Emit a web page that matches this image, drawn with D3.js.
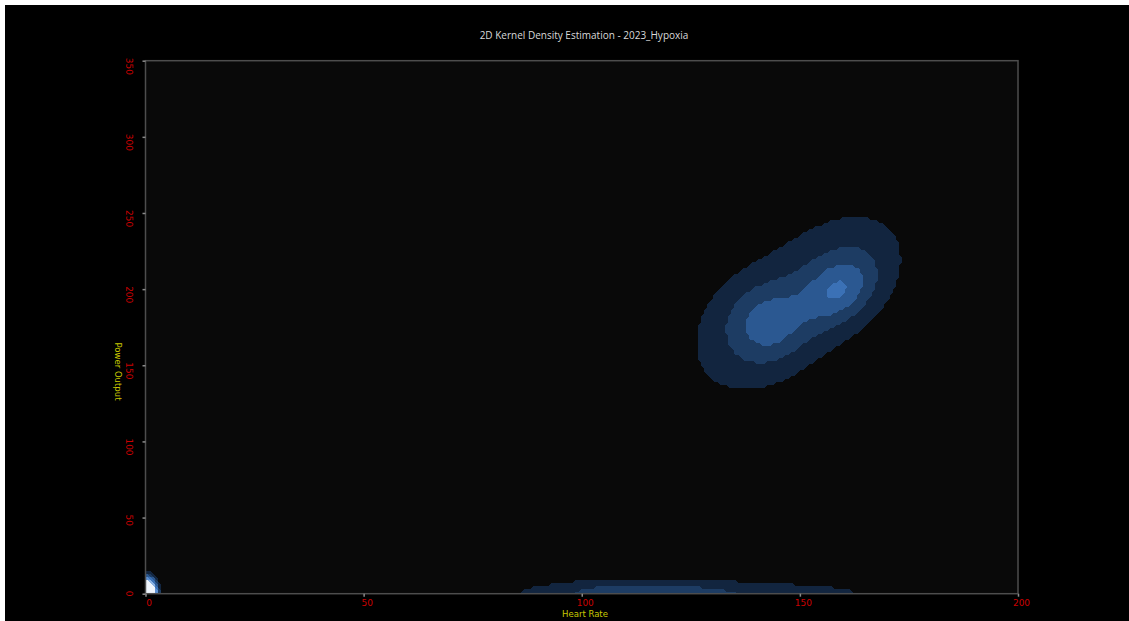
<!DOCTYPE html>
<html>
<head>
<meta charset="utf-8">
<script src="https://cdn.jsdelivr.net/npm/d3@7"></script>
<style>
  html, body { margin: 0; padding: 0; background: #000; }
  svg { display: block; }
</style>
</head>
<body>
<svg id="chart" width="1129" height="621"></svg>
<script>
// ---- axis ticks ----
const xTicks = [0, 50, 100, 150, 200];
const yTicks = [0, 50, 100, 150, 200, 250, 300, 350];

// ---- kernel density components (heart rate bpm, power W) ----
// stationary samples at the origin, zero-power coasting ridge, riding cluster
const kernelHR     = [0,
  80, 86, 92, 98, 104, 110, 116, 122, 128, 134, 140, 146, 152, 158, 164, 170,
  148.9, 139.7, 160.3, 143.2, 159.2, 150.7];
const kernelPower  = [0,
  0, 0, 0, 0, 0, 0, 0, 0, 0, 0, 0, 0, 0, 0, 0, 0,
  191.6, 173.1, 205.0, 177.7, 199.0, 188.9];
const kernelWeight = [40,
  0.25, 0.40, 0.55, 0.72, 1.10, 1.15, 1.15, 1.08, 0.95, 0.80, 0.72, 0.65, 0.50, 0.50, 0.45, 0.15,
  1.7, 0.9, 1.05, 1.2, 1.62, 0.35];
const kernelSdHR   = [1.3,
  6, 6, 6, 6, 6, 6, 6, 6, 6, 6, 6, 6, 6, 6, 6, 6,
  19.3, 7.34, 7.3, 5.5, 4.8, 5.04];
const kernelSdPower = [5.6,
  7, 7, 7, 7, 7, 7, 7, 7, 7, 7, 7, 7, 7, 7, 7, 7,
  47.5, 21.0, 21.5, 15.8, 13.5, 14.45];
const kernelCorr   = [0,
  0, 0, 0, 0, 0, 0, 0, 0, 0, 0, 0, 0, 0, 0, 0, 0,
  0.614, 0, 0.2, 0, 0.3, 0];

// ---- filled contour levels ----
const densityLevels = [1, 2, 3, 4, 6, 8, 10, 12];
const levelColors = ["#12253f", "#1d3c63", "#2b5891", "#3b71b6",
                     "#5d90d2", "#8ab2e3", "#bcd4f0", "#eef4fc"];

const W = 1129, H = 621;
const svg = d3.select("#chart");

// figure background
svg.append("rect").attr("width", W).attr("height", H).attr("fill", "#000");
svg.append("rect").attr("width", W).attr("height", 5).attr("fill", "#fff");
svg.append("rect").attr("width", 5).attr("height", H).attr("fill", "#fff");

const x = d3.scaleLinear().domain([0, 200]).range([145.5, 1018]);
const y = d3.scaleLinear().domain([0, 350]).range([593.7, 60.7]);

const [px0, px1] = x.range();
const [pyBot, pyTop] = y.range();

// plot area
svg.append("rect")
  .attr("x", px0).attr("y", pyTop)
  .attr("width", px1 - px0).attr("height", pyBot - pyTop)
  .attr("fill", "#090909");

// density on a raster grid
function density(hr, pw) {
  let s = 0;
  for (let k = 0; k < kernelHR.length; k++) {
    const z1 = (hr - kernelHR[k]) / kernelSdHR[k];
    const z2 = (pw - kernelPower[k]) / kernelSdPower[k];
    const r = kernelCorr[k];
    const q = (z1 * z1 - 2 * r * z1 * z2 + z2 * z2) / (1 - r * r);
    s += kernelWeight[k] * Math.exp(-0.5 * q);
  }
  return s;
}

const cell = 3;
const nx = Math.ceil((px1 - px0) / cell);
const ny = Math.ceil((pyBot - pyTop) / cell);
const grid = new Float64Array(nx * ny);
for (let j = 0; j < ny; j++) {
  const pw = y.invert(pyTop + (j + 0.5) * cell);
  for (let i = 0; i < nx; i++) {
    const hr = x.invert(px0 + (i + 0.5) * cell);
    grid[j * nx + i] = density(hr, pw);
  }
}

const contours = d3.contours()
  .size([nx, ny])
  .smooth(false)
  .thresholds(densityLevels)(grid);

const color = d3.scaleOrdinal().domain(densityLevels).range(levelColors);

svg.append("defs").append("clipPath").attr("id", "plotClip")
  .append("rect")
  .attr("x", px0).attr("y", pyTop)
  .attr("width", px1 - px0).attr("height", pyBot - pyTop);

svg.append("g")
  .attr("clip-path", "url(#plotClip)")
  .append("g")
  .attr("transform", `translate(${px0},${pyTop}) scale(${cell})`)
  .selectAll("path")
  .data(contours)
  .join("path")
  .attr("d", d3.geoPath())
  .attr("fill", d => color(d.value))
  .attr("shape-rendering", "crispEdges");

// frame
svg.append("rect")
  .attr("x", px0).attr("y", pyTop)
  .attr("width", px1 - px0).attr("height", pyBot - pyTop)
  .attr("fill", "none")
  .attr("stroke", "#4d4d4d")
  .attr("stroke-width", 1.5);

// x axis
const gx = svg.append("g")
  .attr("transform", `translate(0,${pyBot})`)
  .call(d3.axisBottom(x).tickValues(xTicks).tickSize(3).tickPadding(3).tickFormat(d3.format("d")));
gx.select(".domain").remove();
gx.selectAll("line").attr("stroke", "#8a8a8a").attr("stroke-width", 1.5);
gx.selectAll("text")
  .attr("fill", "#cc0000")
  .attr("dx", 3)
  .style("font-family", "'DejaVu Sans', sans-serif")
  .style("font-size", "9px");

// y axis with rotated labels
const gy = svg.append("g")
  .attr("transform", `translate(${px0},0)`)
  .call(d3.axisLeft(y).tickValues(yTicks).tickSize(3).tickFormat(d3.format("d")));
gy.select(".domain").remove();
gy.selectAll("line").attr("stroke", "#8a8a8a").attr("stroke-width", 1.5);
gy.selectAll("text")
  .attr("x", null).attr("dy", null)
  .attr("text-anchor", "start")
  .attr("transform", "translate(-16,-3.5) rotate(90)")
  .attr("dy", "0.35em")
  .attr("fill", "#cc0000")
  .style("font-family", "'DejaVu Sans', sans-serif")
  .style("font-size", "9px");

// titles
svg.append("text")
  .attr("x", 584).attr("y", 39)
  .attr("text-anchor", "middle")
  .attr("fill", "#d9d9d9")
  .style("font-family", "'Open Sans', 'Noto Sans', sans-serif")
  .style("font-size", "10px")
  .text("2D Kernel Density Estimation - 2023_Hypoxia");

svg.append("text")
  .attr("x", 585).attr("y", 616.5)
  .attr("text-anchor", "middle")
  .attr("fill", "#c8c800")
  .style("font-family", "'DejaVu Sans', sans-serif")
  .style("font-size", "8.5px")
  .text("Heart Rate");

svg.append("text")
  .attr("transform", "translate(118,371.5) rotate(90)")
  .attr("text-anchor", "middle")
  .attr("dy", "0.35em")
  .attr("fill", "#c8c800")
  .style("font-family", "'DejaVu Sans', sans-serif")
  .style("font-size", "8.5px")
  .text("Power Output");
</script>
</body>
</html>
